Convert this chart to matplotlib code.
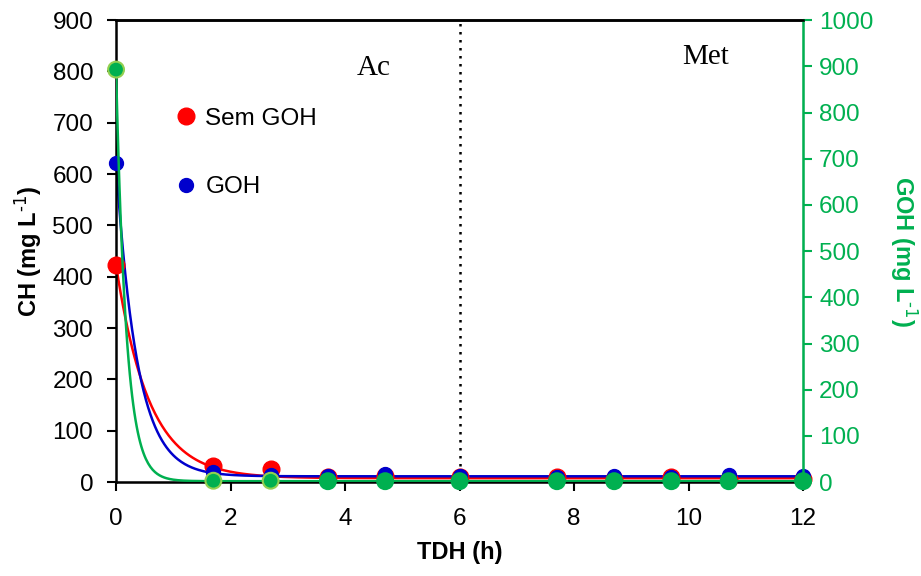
import numpy as np
import matplotlib
matplotlib.use("Agg")
import matplotlib.pyplot as plt
from matplotlib.lines import Line2D

# Data
tdh = [0, 1.7, 2.7, 3.7, 4.7, 6, 7.7, 8.7, 9.7, 10.7, 12]
ch_sem_goh = [423, 31, 25, 10, 11, 10, 9, 7, 9, 7, 7]
ch_goh = [621, 19, 14, 12, 15, 12, 10, 11, 9, 13, 12]
goh = [893, 3, 3, 2, 2, 2, 2, 2, 2, 2, 2]

# first-order decay constants of the trend curves (1/h)
k_sem_goh = 1.75
k_goh = 2.7
k_goh_right = 5.6

plt.rcParams['font.family'] = 'Liberation Sans'
plt.rcParams['mathtext.default'] = 'regular'

RED = '#FF0000'
BLUE = '#0000CC'
GREEN = '#00B050'
LIGHT = '#92D050'
FS = 17.5


def decay(y, k, t):
    y = np.asarray(y, dtype=float)
    c = y[-3:].mean()
    return (y[0] - c) * np.exp(-k * t) + c


fig = plt.figure(figsize=(9.21, 5.76), dpi=100)
ax = fig.add_axes([0.126, 0.163, 0.746, 0.802])
ax2 = ax.twinx()

t = np.linspace(0, 12, 600)
ax.plot(t, decay(ch_sem_goh, k_sem_goh, t), color=RED, lw=1.8, zorder=2)
ax.plot(t, decay(ch_goh, k_goh, t), color=BLUE, lw=1.8, zorder=2)
ax2.plot(t, decay(goh, k_goh_right, t), color=GREEN, lw=1.8, zorder=2)

ax.plot(tdh, ch_sem_goh, 'o', color=RED, ms=12, mec=RED, zorder=3, clip_on=False)
ax.plot(tdh, ch_goh, 'o', color=BLUE, ms=10, mec=BLUE, zorder=3, clip_on=False)
edges = [LIGHT if i < 3 else GREEN for i in range(len(goh))]
ax2.scatter(tdh, goh, s=130, color=GREEN, edgecolors=edges, linewidths=1.5,
            zorder=3, clip_on=False)

ax.axvline(6, color='black', ls=(0, (1, 2.2)), lw=1.8)
ax.text(4.5, 806, 'Ac', family='Liberation Serif', fontsize=21, ha='center', va='center')
ax.text(10.3, 828, 'Met', family='Liberation Serif', fontsize=21, ha='center', va='center')

ax.set_xlim(0, 12)
ax.set_ylim(0, 900)
ax2.set_ylim(0, 1000)
ax.set_xticks(range(0, 13, 2))
ax.set_yticks(range(0, 901, 100))
ax2.set_yticks(range(0, 1001, 100))

ax.tick_params(axis='both', direction='out', length=6.5, width=1.5, labelsize=FS,
               colors='black')
ax.tick_params(axis='x', pad=12)
ax.tick_params(axis='y', pad=10)
ax2.tick_params(axis='y', direction='out', length=6.5, width=1.5, labelsize=FS,
                colors=GREEN, pad=5)
for s in ['left', 'bottom', 'top']:
    ax.spines[s].set_linewidth(1.8)
ax2.spines['top'].set_linewidth(1.8)
ax2.spines['right'].set_color(GREEN)
ax2.spines['right'].set_linewidth(1.8)
ax2.spines['left'].set_visible(False)

ax.set_xlabel('TDH (h)', fontsize=17, fontweight='bold', labelpad=8)
ax.set_ylabel('CH (mg L$^{\\text{-1}}$)', fontsize=17, fontweight='bold', labelpad=6)
ax2.set_ylabel('GOH (mg L$^{\\text{-1}}$)', fontsize=17, fontweight='bold',
               color=GREEN, rotation=270, labelpad=33)

handles = [Line2D([], [], ls='none', marker='o', color=RED, ms=12),
           Line2D([], [], ls='none', marker='o', color=BLUE, ms=10)]
ax.legend(handles, ['Sem GOH', 'GOH'], loc='upper left', bbox_to_anchor=(0.084, 0.81),
          frameon=False, fontsize=FS, handlelength=1, handletextpad=0.3,
          labelspacing=1.9, borderpad=0, borderaxespad=0)

fig.savefig('out.png', dpi=100)
